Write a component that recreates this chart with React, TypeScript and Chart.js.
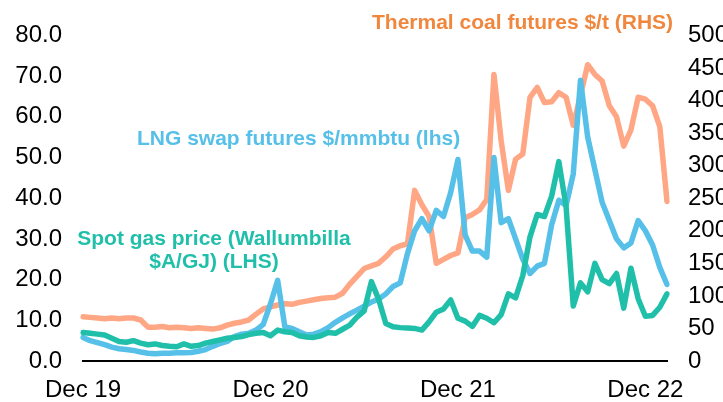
import React, { useEffect, useRef } from "react";
import { Chart, registerables } from "chart.js";

Chart.register(...registerables);

// Fortnightly observations, Dec 2019 -> Jan 2023
const periodCount = 82;
const periods: string[] = Array.from({ length: periodCount }, (_, i) => {
  const d = new Date(2019, 11, 6 + 14 * i);
  return d.toISOString().slice(0, 10);
});

const tickPositions = [0, 26, 52, 78];
const tickLabels = ["Dec 19", "Dec 20", "Dec 21", "Dec 22"];

const leftTicks = [0, 10, 20, 30, 40, 50, 60, 70, 80];
const rightTicks = [0, 50, 100, 150, 200, 250, 300, 350, 400, 450, 500];

// Thermal coal futures $/t (RHS)
const coal = [
  68, 67, 66, 65, 66, 65, 66, 66, 63, 52,
  52, 53, 51, 52, 51, 50, 51, 50, 49, 51,
  55, 58, 60, 63, 72, 80, 83, 86, 88, 87,
  90, 92, 94, 96, 97, 98, 104, 118, 130, 142,
  146, 150, 160, 172, 177, 180, 262, 240, 222, 150,
  156, 162, 166, 220, 225, 232, 248, 440, 338, 262,
  310, 318, 405, 420, 397, 398, 412, 405, 362, 408,
  455, 440, 430, 392, 375, 330, 355, 405, 402, 392,
  360, 245,
];

// LNG swap futures $/mmbtu (lhs)
const lng = [
  5.8, 5.0, 4.5, 4.0, 3.4, 3.0, 2.8, 2.6, 2.2, 1.9,
  1.8, 1.9, 1.9, 2.0, 2.0, 2.1, 2.4, 2.8, 3.6, 4.3,
  4.8, 6.0, 6.6, 6.8, 7.6, 9.0, 14.0, 19.8, 8.4, 8.0,
  7.2, 6.4, 6.6, 7.2, 8.2, 9.5, 10.6, 11.6, 12.5, 13.5,
  14.5, 15.2, 16.5, 18.3, 19.2, 26.4, 32, 35, 32, 37,
  35.5, 41.4, 49.5, 31, 27, 27, 25.5, 50, 34, 35,
  30, 25, 21.5, 23.3, 24, 33.5, 39.5, 38.2, 46, 69,
  55, 47, 39, 34.5, 30, 27.8, 29, 34.5, 32, 28.5,
  23, 18.8,
];

// Spot gas price (Wallumbilla $A/GJ) (LHS)
const spotGas = [
  7.0, 6.8, 6.6, 6.4, 5.6, 4.8, 4.6, 5.0, 4.4, 4.0,
  4.2, 3.8, 3.6, 3.5, 4.2, 3.6, 3.8, 4.4, 4.8, 5.2,
  5.6, 5.8, 6.0, 6.5, 6.8, 7.0, 6.2, 7.6, 7.2, 7.0,
  6.2, 5.9, 5.8, 6.2, 7.0, 6.8, 7.8, 8.8, 10.8, 12.3,
  19.5, 15.2, 9.2, 8.4, 8.2, 8.1, 8.0, 7.6, 9.6, 12.0,
  12.8, 15.0, 10.5, 9.8, 8.5, 11.2, 10.5, 9.4, 11.4, 16.5,
  15.5, 21, 30.5, 36, 35.5, 40.5, 49, 38, 13.5, 19.2,
  17, 24, 20, 19, 21.5, 13, 22.8, 15.3, 11, 11.2,
  13.2, 16.5,
];

const COAL_LINE = "rgb(255,166,132)";
const COAL_TEXT = "rgb(240,135,62)";
const LNG_COLOR = "rgb(86,192,232)";
const GAS_COLOR = "rgb(32,191,170)";
const FONT = "'Liberation Sans', Arial, Helvetica, sans-serif";

export default function App() {
  const canvasRef = useRef<HTMLCanvasElement | null>(null);

  useEffect(() => {
    if (!canvasRef.current) return;
    const chart = new Chart(canvasRef.current, {
      type: "line",
      data: {
        labels: periods,
        datasets: [
          {
            label: "Spot gas price (Wallumbilla $A/GJ) (LHS)",
            data: spotGas,
            borderColor: GAS_COLOR,
            yAxisID: "yL",
            order: 1,
          },
          {
            label: "LNG swap futures $/mmbtu (lhs)",
            data: lng,
            borderColor: LNG_COLOR,
            yAxisID: "yL",
            order: 2,
          },
          {
            label: "Thermal coal futures $/t (RHS)",
            data: coal,
            borderColor: COAL_LINE,
            yAxisID: "yR",
            order: 3,
          },
        ],
      },
      options: {
        responsive: false,
        animation: false,
        events: [],
        layout: { padding: { top: 24, left: 0, right: 0, bottom: 0 } },
        elements: {
          point: { radius: 0 },
          line: { borderWidth: 5.5, tension: 0, borderJoinStyle: "round", borderCapStyle: "round" },
        },
        plugins: {
          legend: { display: false },
          tooltip: { enabled: false },
          title: { display: false },
        },
        scales: {
          x: {
            type: "category",
            offset: false,
            grid: { display: false, drawTicks: false },
            border: { display: true, color: "#000", width: 2 },
            ticks: {
              autoSkip: false,
              maxRotation: 0,
              minRotation: 0,
              padding: 15,
              color: "#000",
              font: { family: FONT, size: 24 },
              callback: (_v: any, index: number) => {
                const k = tickPositions.indexOf(index);
                return k >= 0 ? tickLabels[k] : null;
              },
            },
            afterFit: (s: any) => {
              s.height = 41;
            },
          },
          yL: {
            type: "linear",
            position: "left",
            min: 0,
            max: 80,
            grid: { display: false, drawTicks: false },
            border: { display: false },
            afterBuildTicks: (s: any) => {
              s.ticks = leftTicks.map((v) => ({ value: v }));
            },
            ticks: {
              padding: 21,
              color: "#000",
              font: { family: FONT, size: 24 },
              callback: (v: any) => Number(v).toFixed(1),
            },
            afterFit: (s: any) => {
              s.width = 83;
            },
          },
          yR: {
            type: "linear",
            position: "right",
            min: 0,
            max: 500,
            grid: { display: false, drawTicks: false },
            border: { display: false },
            afterBuildTicks: (s: any) => {
              s.ticks = rightTicks.map((v) => ({ value: v }));
            },
            ticks: {
              padding: 21,
              color: "#000",
              font: { family: FONT, size: 24 },
              callback: (v: any) => String(v),
            },
            afterFit: (s: any) => {
              s.width = 56;
            },
          },
        },
      },
    });
    return () => chart.destroy();
  }, []);

  const labelBase: React.CSSProperties = {
    position: "absolute",
    fontFamily: FONT,
    fontWeight: "bold",
    fontSize: 21,
    lineHeight: "24px",
    whiteSpace: "nowrap",
  };

  return (
    <div
      style={{
        position: "fixed",
        left: 0,
        top: 0,
        width: 723,
        height: 402,
        background: "#fff",
        overflow: "hidden",
      }}
    >
      <canvas ref={canvasRef} width={723} height={402} style={{ display: "block" }} />
      <div style={{ ...labelBase, left: 372, top: 10, color: COAL_TEXT }}>
        Thermal coal futures $/t (RHS)
      </div>
      <div style={{ ...labelBase, left: 137, top: 126, color: LNG_COLOR }}>
        LNG swap futures $/mmbtu (lhs)
      </div>
      <div
        style={{
          ...labelBase,
          left: 64,
          width: 300,
          top: 226,
          lineHeight: "23px",
          textAlign: "center",
          color: GAS_COLOR,
        }}
      >
        Spot gas price (Wallumbilla
        <br />
        $A/GJ) (LHS)
      </div>
    </div>
  );
}
